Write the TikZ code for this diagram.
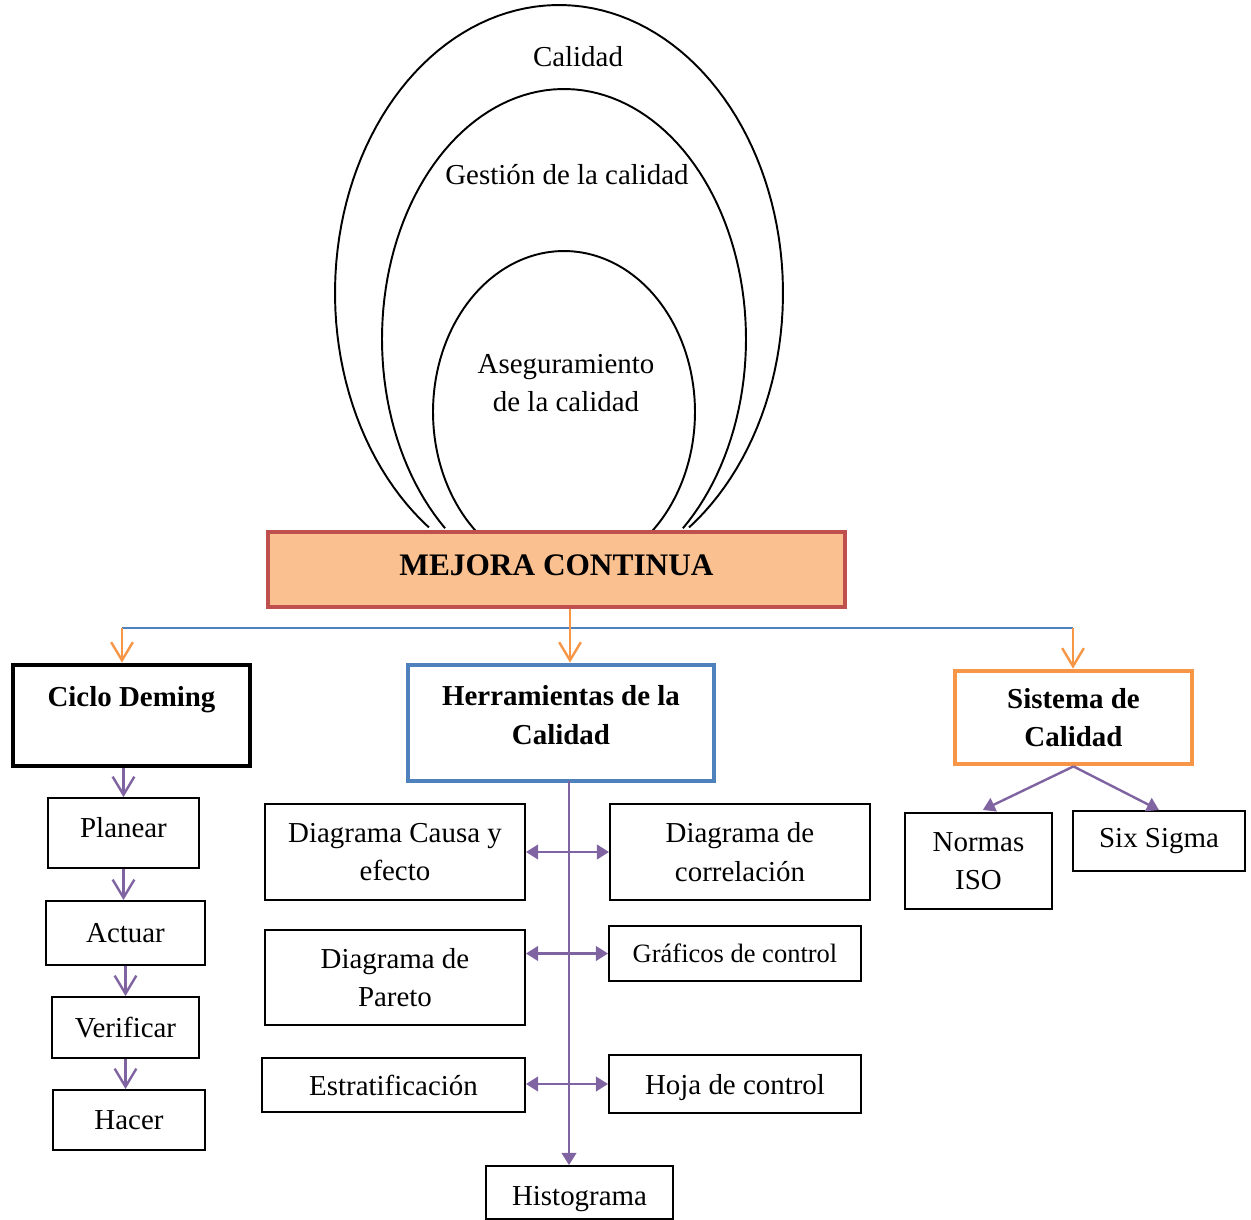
\documentclass[tikz,border=0pt]{standalone}
\usepackage{fontspec}
\setmainfont{Liberation Serif}
\usetikzlibrary{arrows.meta,calc}
\definecolor{MCRed}{RGB}{192,80,77}
\definecolor{MCPeach}{RGB}{250,192,144}
\definecolor{MCOrange}{RGB}{247,150,70}
\definecolor{MCBlue}{RGB}{79,129,189}
\definecolor{MCPurple}{RGB}{128,100,162}

\begin{document}
\begin{tikzpicture}[
    x=0.415pt,y=-0.415pt,
    every node/.style={font=\fontsize{12}{16}\selectfont},
    ring/.style={black, line width=0.8pt},
    item/.style={draw=black, line width=0.8pt, align=center, inner sep=2pt},
    head/.style={line width=2pt, align=center, inner sep=2pt, font=\fontsize{12}{16}\selectfont\bfseries},
    vee/.style={-{Straight Barb[length=7.5pt,width=9pt]}, line width=1pt},
    feed/.style={vee, draw=MCOrange},
    pdca/.style={vee, draw=MCPurple},
    tool/.style={{Triangle[length=5pt,width=6pt]}-{Triangle[length=5pt,width=6pt]}, line width=1pt, draw=MCPurple},
    tooldown/.style={-{Triangle[length=5pt,width=6pt]}, line width=1pt, draw=MCPurple},
    bus/.style={draw=MCBlue, line width=0.6pt}
  ]
    \useasboundingbox (0,0) rectangle (1251,1220);
    % nested quality levels
    \draw[ring] plot[domain=125.5:414.5, samples=120] ({559+224*cos(\x)},{293+288*sin(\x)});
    \draw[ring] plot[domain=130.8:409.2, samples=120] ({564+182*cos(\x)},{339+250*sin(\x)});
    \draw[ring] plot[domain=131.6:408.4, samples=120] ({564+131*cos(\x)},{412+161*sin(\x)});
    \node (tcal) at (578,57) {Calidad};
    \node (tges) at (567,175) {Gestión de la calidad};
    \node[align=center] (tase) at (566,383) {Aseguramiento\\de la calidad};

    \node[draw=MCRed, fill=MCPeach, line width=2pt, minimum width=239.5pt, minimum height=31.1pt, text depth=4pt,
          font=\fontsize{13}{16}\selectfont\bfseries] (mejora) at (556.5,569.5) {MEJORA CONTINUA};

    % three branches
    \node[head, draw=black, minimum width=98.4pt, minimum height=41.9pt] (ciclo) at (131.5,715.5) {Ciclo Deming\\~};
    \node[head, draw=MCBlue, minimum width=127pt, minimum height=48.1pt, text depth=6.6pt] (herr) at (561,723) {Herramientas de la\\Calidad};
    \node[head, draw=MCOrange, minimum width=98.4pt, minimum height=38.6pt] (sist) at (1073.5,717.5) {Sistema de\\Calidad};

    \node[item, minimum width=62.7pt, minimum height=29pt, text depth=5pt] (planear) at (123.5,833) {Planear};
    \foreach \name/\x/\y/\w/\h/\lab in {
      actuar/125.5/933/159/64/Actuar,
      verificar/125.5/1027.5/147/61/Verificar,
      hacer/129/1120/152/60/Hacer,
      causa/395/852/260/96/{Diagrama Causa y\\efecto},
      pareto/395/977.5/260/95/{Diagrama de\\Pareto},
      estrat/393.5/1085/263/54/Estratificación,
      correl/740/852/260/96/{Diagrama de\\correlación},
      iso/978.5/861/147/96/{Normas\\ISO},
      six/1159/841/172/60/Six Sigma} {
      \node[item, minimum width=\w*0.415pt, minimum height=\h*0.415pt] (\name) at (\x,\y) {\lab};
    }
    \node[item, minimum width=104.6pt, minimum height=22.8pt, font=\fontsize{11}{14}\selectfont] (graficos) at (735,953.5) {Gráficos de control};
    \node[item, minimum width=104.6pt, minimum height=24.1pt, text height=11.5pt] (hoja) at (735,1084) {Hoja de control};
    \node[item, minimum width=77.6pt, minimum height=22pt, text height=13.5pt] (histo) at (579.5,1192.5) {Histograma};

    % feeds from the main box
    \coordinate (busL) at (122,628);
    \coordinate (busR) at (1073,628);
    \coordinate (drop) at (570,628);
    \draw[bus] (busL) -- (busR);
    \draw[feed] (busL) -- (busL |- ciclo.north);
    \draw[feed] (busR) -- (busR |- sist.north);
    \draw[feed] (mejora.south -| drop) -- (drop |- herr.north);

    % Deming steps
    \draw[pdca] (ciclo.south -| planear.north) -- (planear.north);
    \draw[pdca] (planear.south) -- (planear.south |- actuar.north);
    \draw[pdca] (actuar.south) -- (actuar.south |- verificar.north);
    \draw[pdca] (verificar.south) -- (verificar.south |- hacer.north);

    % tools
    \coordinate (trunk) at (569,781);
    \draw[tooldown] (trunk) -- (trunk |- histo.north);
    \draw[tool] (causa.east) -- (correl.west);
    \draw[tool] (graficos.west -| pareto.east) -- (graficos.west);
    \draw[tool] (hoja.west -| estrat.east) -- (hoja.west);

    % quality system
    \draw[tooldown, shorten >=2pt] (sist.south) -- (iso.north);
    \draw[tooldown] (sist.south) -- (six.north);
  \end{tikzpicture}
\end{document}
